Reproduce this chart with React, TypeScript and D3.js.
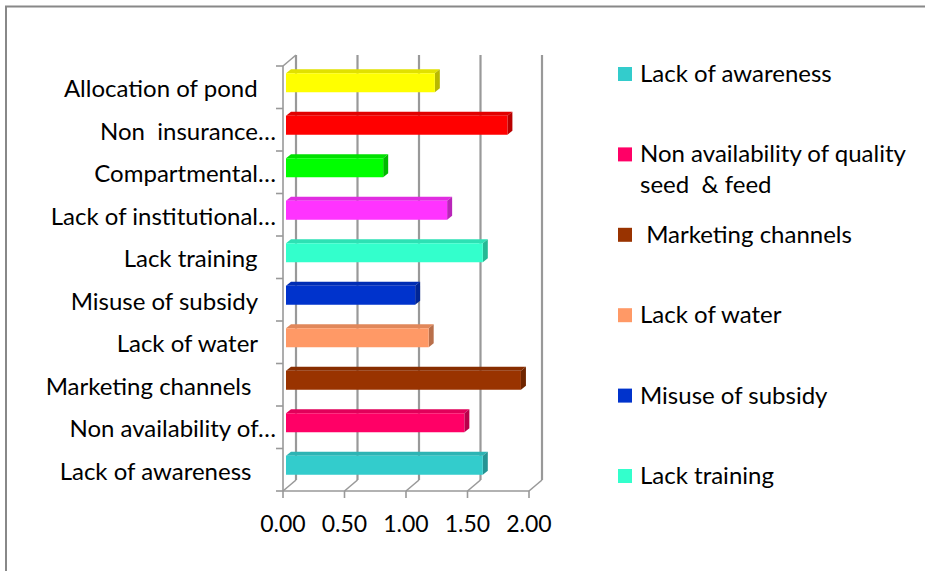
import React from 'react'
import * as d3 from 'd3'

// categories bottom -> top, as Excel draws a horizontal bar chart
const axisLabels = [
  'Lack of awareness    ',
  'Non availability of…',
  'Marketing channels    ',
  'Lack of water   ',
  'Misuse of subsidy   ',
  'Lack training   ',
  'Lack of institutional…',
  'Compartmental…',
  'Non  insurance…',
  'Allocation of pond   ',
]
const values = [1.60, 1.45, 1.91, 1.16, 1.05, 1.60, 1.31, 0.79, 1.80, 1.21]
const barColors = ['#33CCCC', '#FF0066', '#993300', '#FF9966', '#0033CC', '#33FFCC', '#FF33FF', '#00FF00', '#FF0000', '#FFFF00']

// legend only shows the first six points
const legendLabels = [
  ['Lack of awareness'],
  ['Non availability of quality', 'seed  & feed'],
  [' Marketing channels'],
  ['Lack of water'],
  ['Misuse of subsidy'],
  ['Lack training'],
]
const xTicks = [0, 0.5, 1, 1.5, 2]

const width = 925
const height = 571
const font = 'Lato, "Open Sans", sans-serif'
const depthX = 13
const depthY = -11
const barH = 19

function App() {
  const x = d3.scaleLinear().domain([0, 2]).range([283, 529])
  const y = d3.scaleBand<number>()
    .domain(d3.range(axisLabels.length))
    .range([491, 66])
  const bw = y.bandwidth()
  const legendY = d3.scalePoint<number>()
    .domain(d3.range(legendLabels.length))
    .range([76, 478])

  const gridColor = '#999'

  return (
    <svg width={width} height={height} style={{ position: 'absolute', left: 0, top: 0, background: '#fff' }}>
      <rect x={6} y={6.5} width={940} height={580} fill="#fff" stroke="#888" strokeWidth={2} />

      {/* back wall gridlines */}
      {xTicks.map(t => (
        <line key={'g' + t} x1={x(t) + depthX} x2={x(t) + depthX} y1={66 + depthY} y2={491 + depthY}
          stroke={gridColor} strokeWidth={2.2} />
      ))}
      {/* floor diagonals and x ticks */}
      {xTicks.map(t => (
        <g key={'f' + t}>
          <line x1={x(t)} x2={x(t) + depthX} y1={491} y2={491 + depthY} stroke={gridColor} strokeWidth={1.6} />
          <line x1={x(t)} x2={x(t)} y1={491} y2={498} stroke={gridColor} strokeWidth={1.6} />
          <text x={x(t)} y={526} textAnchor="middle" dominantBaseline="middle" fontFamily={font} fontSize={23} fill="#000">
            {d3.format('.2f')(t)}
          </text>
        </g>
      ))}
      <line x1={x(0)} x2={x(2)} y1={491} y2={491} stroke={gridColor} strokeWidth={1.6} />

      {/* category axis */}
      <line x1={x(0)} x2={x(0)} y1={66} y2={491} stroke={gridColor} strokeWidth={1.6} />
      <line x1={x(0)} x2={x(0) + depthX} y1={66} y2={66 + depthY} stroke={gridColor} strokeWidth={1.6} />
      {d3.range(axisLabels.length + 1).map(i => {
        const yy = 491 - i * bw
        return <line key={'t' + i} x1={x(0) - 7} x2={x(0)} y1={yy} y2={yy} stroke={gridColor} strokeWidth={1.6} />
      })}
      {axisLabels.map((label, i) => (
        <text key={'l' + i} x={276} y={y(i)! + bw / 2 + 4} textAnchor="end" dominantBaseline="middle"
          fontFamily={font} fontSize={24} fill="#000" style={{ whiteSpace: 'pre' }}>
          {label}
        </text>
      ))}

      {/* 3d bars */}
      {values.map((v, i) => {
        const c = d3.color(barColors[i])!
        const x0 = x(0) + 3
        const x1 = x(v) + 3
        const top = y(i)! + bw / 2 - 4.5 - barH / 2
        const topFace = `M${x0},${top}L${x0 + 5},${top - 4}L${x1 + 5},${top - 4}L${x1},${top}Z`
        const sideFace = `M${x1},${top}L${x1 + 5},${top - 4}L${x1 + 5},${top - 4 + barH}L${x1},${top + barH}Z`
        return (
          <g key={'b' + i}>
            <path d={topFace} fill={c.darker(0.35).toString()} />
            <path d={sideFace} fill={c.darker(0.9).toString()} />
            <rect x={x0} y={top} width={x1 - x0} height={barH} fill={barColors[i]} />
          </g>
        )
      })}

      {/* legend */}
      {legendLabels.map((lines, i) => (
        <g key={'lg' + i} transform={`translate(618,${legendY(i)})`}>
          <rect x={0} y={-9} width={14} height={14} fill={barColors[i]} />
          {lines.map((ln, j) => (
            <text key={j} x={22} y={j * 31} dominantBaseline="middle" fontFamily={font} fontSize={24}
              fill="#000" style={{ whiteSpace: 'pre' }}>
              {ln}
            </text>
          ))}
        </g>
      ))}
    </svg>
  )
}

export default App
